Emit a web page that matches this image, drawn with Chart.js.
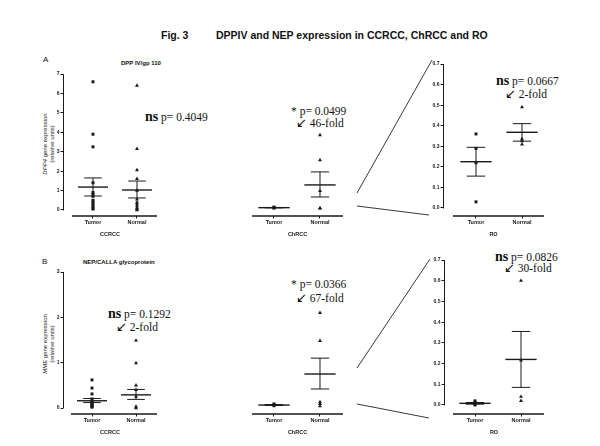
<!DOCTYPE html>
<html><head><meta charset="utf-8">
<script src="https://cdn.jsdelivr.net/npm/chart.js@4/dist/chart.umd.min.js"></script>
<style>
html,body{margin:0;padding:0;background:#fff;}
#wrap{position:relative;width:600px;height:446px;overflow:hidden;background:#fff;}
canvas{position:absolute;left:0;top:0;}
.t{position:absolute;white-space:nowrap;color:#111;line-height:1;}
.sans{font-family:"Liberation Sans",Arial,sans-serif;}
.serif{font-family:"Liberation Serif","Times New Roman",serif;font-size:11.5px;line-height:12px;}
.serif b{font-size:14px;line-height:12px;}
.serif .ar{font-family:"DejaVu Sans",sans-serif;font-size:13px;line-height:12px;}
.ytitle{position:absolute;font-family:"Liberation Sans",Arial,sans-serif;font-size:6px;color:#222;text-align:center;line-height:6.5px;transform:translate(-50%,-50%) rotate(-90deg);white-space:nowrap;}
svg{position:absolute;left:0;top:0;}
</style></head>
<body><div id="wrap">
<div class="t sans" style="left:161px;top:30px;font-size:10.5px;font-weight:bold;">Fig. 3</div>
<div class="t sans" style="left:216px;top:30px;font-size:10.5px;font-weight:bold;">DPPIV and NEP expression in CCRCC, ChRCC and RO</div>
<div class="t sans" style="left:43px;top:56px;font-size:8px;">A</div>
<div class="t sans" style="left:42px;top:258px;font-size:8px;">B</div>
<div class="t sans" style="left:121px;top:60px;font-size:6px;font-weight:bold;">DPP IV/gp 110</div>
<div class="t sans" style="left:83px;top:259px;font-size:6px;font-weight:bold;">NEP/CALLA glycoprotein</div>
<div class="ytitle" style="left:48px;top:144px;"><i>DPP4</i> gene expression<br>(relative units)</div>
<div class="ytitle" style="left:48px;top:344px;"><i>MME</i> gene expression<br>(relative units)</div>

<div class="t serif" style="left:145px;top:111px;"><b>ns</b> p= 0.4049</div>
<div class="t serif" style="left:291px;top:105px;">* p= 0.0499</div>
<div class="t serif" style="left:296px;top:117px;"><span class="ar">↙</span> 46-fold</div>
<div class="t serif" style="left:496px;top:75px;"><b>ns</b> p= 0.0667</div>
<div class="t serif" style="left:505px;top:88px;"><span class="ar">↙</span> 2-fold</div>
<div class="t serif" style="left:108px;top:308px;"><b>ns</b> p= 0.1292</div>
<div class="t serif" style="left:116px;top:321px;"><span class="ar">↙</span> 2-fold</div>
<div class="t serif" style="left:291px;top:278px;">* p= 0.0366</div>
<div class="t serif" style="left:296px;top:292px;"><span class="ar">↙</span> 67-fold</div>
<div class="t serif" style="left:495px;top:251px;"><b>ns</b> p= 0.0826</div>
<div class="t serif" style="left:504px;top:262px;"><span class="ar">↙</span> 30-fold</div>

<svg width="600" height="446">
<g stroke="#222" stroke-width="0.9" fill="none">
<line x1="357" y1="193" x2="432" y2="60"/>
<line x1="357" y1="206" x2="429" y2="215"/>
<line x1="357" y1="368" x2="430" y2="259"/>
<line x1="357" y1="404" x2="429" y2="418"/>
</g></svg>
</div>
<script>
// ---------- data ----------
const groups = ['Tumor', 'Normal'];

// A: DPP4 (DPP IV/gp 110)
const dppCcrccTumor  = [6.6, 3.9, 3.25, 1.4, 0.9, 0.8, 0.7, 0.5, 0.4, 0.3, 0.2, 0.1, 0.05];
const dppCcrccNormal = [6.4, 3.15, 2.05, 1.6, 1.0, 0.55, 0.4, 0.3, 0.2, 0.1, 0.05, 0.0];
const dppCcrccMean   = [1.18, 1.03];
const dppCcrccSemHi  = [1.65, 1.49];
const dppCcrccSemLo  = [0.72, 0.62];

const dppChrccTumor  = [0.15, 0.12, 0.1];
const dppChrccNormal = [3.86, 2.57, 0.98, 0.1, 0.08];
const dppChrccMean   = [0.12, 1.29];
const dppChrccSemHi  = [0.13, 1.96];
const dppChrccSemLo  = [0.11, 0.67];

const dppRoTumor  = [0.36, 0.29, 0.22, 0.03];
const dppRoNormal = [0.49, 0.335, 0.325, 0.31];
const dppRoMean   = [0.225, 0.368];
const dppRoSemHi  = [0.295, 0.41];
const dppRoSemLo  = [0.155, 0.325];

// B: MME (NEP/CALLA glycoprotein)
const mmeCcrccTumor  = [0.62, 0.44, 0.31, 0.2, 0.15, 0.12, 0.1, 0.08, 0.05, 0.03, 0.02];
const mmeCcrccNormal = [1.49, 0.99, 0.5, 0.4, 0.25, 0.03, 0.0];
const mmeCcrccMean   = [0.16, 0.29];
const mmeCcrccSemHi  = [0.21, 0.41];
const mmeCcrccSemLo  = [0.12, 0.19];

const mmeChrccTumor  = [0.09, 0.07, 0.05];
const mmeChrccNormal = [2.1, 1.48, 0.13, 0.09, 0.04];
const mmeChrccMean   = [0.066, 0.75];
const mmeChrccSemHi  = [0.075, 1.1];
const mmeChrccSemLo  = [0.057, 0.42];

const mmeRoTumor  = [0.02, 0.012, 0.008, 0.005, 0.0];
const mmeRoNormal = [0.6, 0.215, 0.04, 0.02];
const mmeRoMean   = [0.008, 0.22];
const mmeRoSemHi  = [0.012, 0.355];
const mmeRoSemLo  = [0.004, 0.085];

// tick labels
const ccrccTicksA = [0, 1, 2, 3, 4, 5, 6, 7];
const ccrccTicksB = [0, 1, 2, 3];
const roTicks = [0.0, 0.1, 0.2, 0.3, 0.4, 0.5, 0.6, 0.7];

// ---------- helpers ----------
const SANS = '"Liberation Sans", Arial, sans-serif';
const INK = '#1a1a1a';

const axisLines = {
  id: 'axisLines',
  afterDraw(chart, args, o) {
    const ctx = chart.ctx, a = chart.chartArea;
    const xs = chart.scales.x, ys = chart.scales.y;
    ctx.save();
    ctx.strokeStyle = INK;
    if (o.yAxis) {
      ctx.lineWidth = 1;
      ctx.beginPath();
      ctx.moveTo(a.left + 0.5, ys.getPixelForValue(o.yTop));
      ctx.lineTo(a.left + 0.5, ys.getPixelForValue(0) + 0.5);
      ctx.stroke();
    }
    ctx.lineWidth = 1.3;
    ctx.beginPath();
    ctx.moveTo(xs.getPixelForValue(o.xFrom), a.bottom);
    ctx.lineTo(xs.getPixelForValue(xs.max), a.bottom);
    ctx.stroke();
    ctx.restore();
  }
};

function seg(x1, y1, x2, y2, w) {
  return {type: 'line', data: [{x: x1, y: y1}, {x: x2, y: y2}], borderColor: INK,
    borderWidth: w, pointRadius: 0, showLine: true, fill: false, order: 0};
}

function makePanel(id, cfg) {
  const cv = document.createElement('canvas');
  cv.id = id; cv.width = 600; cv.height = 446;
  cv.style.width = '600px'; cv.style.height = '446px';
  document.getElementById('wrap').appendChild(cv);
  const yW = cfg.yTicks ? 14 : 0;
  const xH = 22;
  const datasets = [];
  [cfg.tumor, cfg.normal].forEach((vals, i) => {
    datasets.push({type: 'scatter', data: vals.map(v => ({x: i + 1, y: v})),
      pointStyle: i === 0 ? 'rect' : 'triangle', pointRadius: i === 0 ? 2.1 : 2.3,
      backgroundColor: INK, borderColor: INK, borderWidth: 0, order: 1});
  });
  const mh = 0.34, ch = 0.2;
  [0, 1].forEach(i => {
    const x = i + 1;
    datasets.push(seg(x - mh, cfg.mean[i], x + mh, cfg.mean[i], 1.4));
    datasets.push(seg(x, cfg.lo[i], x, cfg.hi[i], 1));
    datasets.push(seg(x - ch, cfg.hi[i], x + ch, cfg.hi[i], 1));
    datasets.push(seg(x - ch, cfg.lo[i], x + ch, cfg.lo[i], 1));
  });
  new Chart(cv, {
    data: {datasets},
    plugins: [axisLines],
    options: {
      responsive: false, animation: false, devicePixelRatio: 1,
      layout: {padding: {left: cfg.left - yW, right: 600 - cfg.right, top: cfg.top, bottom: 446 - cfg.bottom - xH}},
      plugins: {legend: {display: false}, tooltip: {enabled: false},
        axisLines: {yAxis: !!cfg.yTicks, yTop: cfg.yMax, xFrom: cfg.xFrom}},
      scales: {
        x: {type: 'linear', min: cfg.xMin, max: cfg.xMax,
          afterBuildTicks: s => { s.ticks = groups.map((g, i) => ({value: i + 1})); },
          afterFit: s => { s.height = xH; },
          ticks: {callback: v => groups[v - 1], color: INK, font: {family: SANS, size: 5.5, weight: 'bold'}, padding: 1, maxRotation: 0, autoSkip: false},
          grid: {display: true, drawOnChartArea: false, drawTicks: true, tickLength: 2.5, color: INK, lineWidth: 1},
          border: {display: false},
          title: {display: true, text: cfg.group, color: INK, font: {family: SANS, size: 5.5, weight: 'bold'}, padding: {top: 0, bottom: 0}}
        },
        y: {type: 'linear', min: cfg.yMin, max: cfg.yMax, display: !!cfg.yTicks,
          afterBuildTicks: s => { if (cfg.yTicks) s.ticks = cfg.yTicks.map(v => ({value: v})); },
          afterFit: s => { s.width = yW; },
          ticks: {callback: v => cfg.fmt(v), color: INK, font: {family: SANS, size: 5, weight: 'bold'}, padding: 1},
          grid: {display: true, drawOnChartArea: false, drawTicks: true, tickLength: 2.5, color: INK, lineWidth: 1},
          border: {display: false}
        }
      }
    }
  });
}

const intFmt = v => String(v);
const decFmt = v => v.toFixed(1);

makePanel('a1', {left: 63, right: 157, top: 74, bottom: 216, xMin: 0.318, xMax: 2.455, xFrom: 0.523,
  yMin: -0.309, yMax: 7, yTicks: ccrccTicksA, fmt: intFmt, group: 'CCRCC',
  tumor: dppCcrccTumor, normal: dppCcrccNormal, mean: dppCcrccMean, hi: dppCcrccSemHi, lo: dppCcrccSemLo});
makePanel('a2', {left: 252, right: 343, top: 74, bottom: 216, xMin: 0.522, xMax: 2.5, xFrom: 0.522,
  yMin: -0.309, yMax: 7, yTicks: null, fmt: intFmt, group: 'ChRCC',
  tumor: dppChrccTumor, normal: dppChrccNormal, mean: dppChrccMean, hi: dppChrccSemHi, lo: dppChrccSemLo});
makePanel('a3', {left: 443, right: 544, top: 64, bottom: 216, xMin: 0.283, xMax: 2.478, xFrom: 0.5,
  yMin: -0.0389, yMax: 0.7, yTicks: roTicks, fmt: decFmt, group: 'RO',
  tumor: dppRoTumor, normal: dppRoNormal, mean: dppRoMean, hi: dppRoSemHi, lo: dppRoSemLo});
makePanel('b1', {left: 63, right: 157, top: 272, bottom: 414, xMin: 0.341, xMax: 2.477, xFrom: 0.523,
  yMin: -0.132, yMax: 3, yTicks: ccrccTicksB, fmt: intFmt, group: 'CCRCC',
  tumor: mmeCcrccTumor, normal: mmeCcrccNormal, mean: mmeCcrccMean, hi: mmeCcrccSemHi, lo: mmeCcrccSemLo});
makePanel('b2', {left: 252, right: 343, top: 272, bottom: 414, xMin: 0.522, xMax: 2.5, xFrom: 0.522,
  yMin: -0.132, yMax: 3, yTicks: null, fmt: intFmt, group: 'ChRCC',
  tumor: mmeChrccTumor, normal: mmeChrccNormal, mean: mmeChrccMean, hi: mmeChrccSemHi, lo: mmeChrccSemLo});
makePanel('b3', {left: 444, right: 544, top: 260, bottom: 414, xMin: 0.326, xMax: 2.5, xFrom: 0.522,
  yMin: -0.0435, yMax: 0.7, yTicks: roTicks, fmt: decFmt, group: 'RO',
  tumor: mmeRoTumor, normal: mmeRoNormal, mean: mmeRoMean, hi: mmeRoSemHi, lo: mmeRoSemLo});
</script>
</body></html>
